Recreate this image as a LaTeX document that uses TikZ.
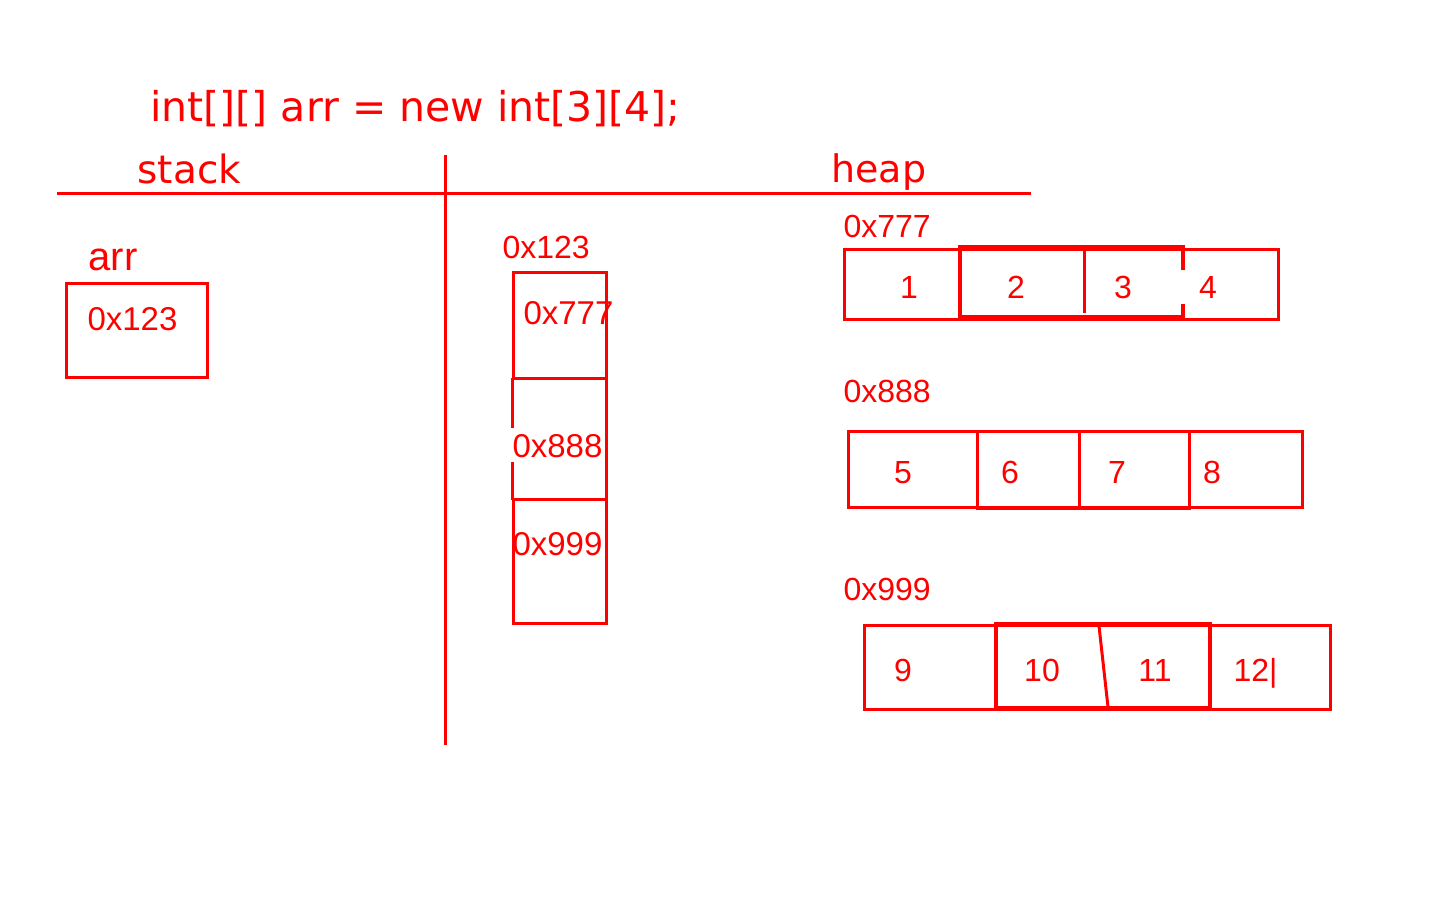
\documentclass[tikz,border=0pt]{standalone}
\usepackage{fontspec}
\setmainfont{Liberation Sans}
\newfontfamily\dejavu{DejaVu Sans}
\begin{document}
\begin{tikzpicture}[x=1pt,y=-1pt, line width=3pt, draw=red,
  every node/.style={inner sep=0pt, text=red},
  lbl/.style={anchor=base west, font=\fontsize{32}{38}\selectfont},
  num/.style={anchor=base, font=\fontsize{32}{38}\selectfont},
  big/.style={anchor=base west, font=\dejavu\fontsize{41}{48}\selectfont},
  cellthick/.style={line width=4pt}]
\useasboundingbox[fill=white] (0,0) rectangle (1440,900);

% title and headers
\node[big] (title) at (149,121) {int[][] arr = new int[3][4];};
\node[big, font=\dejavu\fontsize{39}{46}\selectfont] (stack) at (136,183) {stack};
\node[big, font=\dejavu\fontsize{38}{46}\selectfont] (heap) at (830,182) {heap};
\draw (57,193) -- (1031,193);
\draw (445,155) -- (445,745);

% stack variable
\node[lbl, font=\fontsize{40}{46}\selectfont] (arrlbl) at (87,270) {arr};
\draw (66,283) rectangle (207,377);
\node[lbl, font=\fontsize{33}{38}\selectfont] (arrval) at (86,330) {0x123};

% outer array
\node[lbl] (outlbl) at (501,258) {0x123};
\draw (513,378) -- (513,272) -- (606,272) -- (606,623) -- (513,623) -- (513,499);
\draw (512,378) -- (606,378);
\draw (512,499) -- (606,499);
\draw (512,378) -- (512,428);
\draw (512,462) -- (512,500);
\node[lbl, font=\fontsize{33}{38}\selectfont] (p1) at (522,324) {0x777};
\node[lbl, font=\fontsize{33}{38}\selectfont] (p2) at (511,457) {0x888};
\node[lbl, font=\fontsize{33}{38}\selectfont] (p3) at (511,555) {0x999};

% heap row 1
\node[lbl] (h1) at (842,237) {0x777};
\draw (844,249) rectangle (1278,319);
\draw[cellthick] (1183,270) -- (1183,247) -- (960,247) -- (960,317) -- (1183,317) -- (1183,304);
\draw (1084,247) -- (1084,313);
\node[num] (c1) at (909,298) {1};
\node[num] (c2) at (1016,298) {2};
\node[num] (c3) at (1123,298) {3};
\node[num] (c4) at (1208,298) {4};

% heap row 2
\node[lbl] (h2) at (842,402) {0x888};
\draw (848,431) rectangle (1302,507);
\draw (977,431) rectangle (1079,508);
\draw (1079,431) rectangle (1189,508);
\node[num] (c5) at (903,483) {5};
\node[num] (c6) at (1010,483) {6};
\node[num] (c7) at (1117,483) {7};
\node[num] (c8) at (1212,483) {8};

% heap row 3
\node[lbl] (h3) at (842,600) {0x999};
\draw (864,625) rectangle (1330,709);
\draw[cellthick] (996,624) rectangle (1210,708);
\draw (1099,626) -- (1108,707);
\node[num] (c9) at (903,681) {9};
\node[num] (c10) at (1042,681) {10};
\node[num] (c11) at (1155,681) {11};
\node[lbl] (c12) at (1232,681) {12|};
\end{tikzpicture}
\end{document}
